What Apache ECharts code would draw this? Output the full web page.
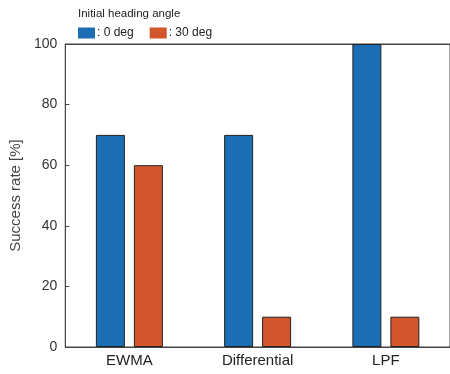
<!DOCTYPE html>
<html>
<head>
<meta charset="utf-8">
<script src="https://cdn.jsdelivr.net/npm/echarts@6/dist/echarts.min.js"></script>
<style>
  html, body { margin: 0; padding: 0; background: #fff; }
  #chart { width: 450px; height: 374px; }
</style>
</head>
<body>
<div id="chart"></div>
<script>
// categories and values
var categories = ['EWMA', 'Differential', 'LPF'];
var deg0 = [70, 70, 100];
var deg30 = [60, 10, 10];
var seriesNames = [': 0 deg', ': 30 deg'];
var yTicks = [0, 20, 40, 60, 80, 100];

var font = 'Liberation Sans, Arial, sans-serif';

var chart = echarts.init(document.getElementById('chart'));

var option = {
  animation: false,
  color: ['#1c6eb4', '#d2552c'],
  title: {
    text: 'Initial heading angle',
    left: 73,
    top: 3,
    textStyle: { fontSize: 11.5, fontWeight: 'normal', color: '#222', fontFamily: font }
  },
  legend: {
    data: seriesNames,
    left: 73,
    top: 22,
    itemWidth: 17,
    itemHeight: 11,
    itemGap: 16,
    icon: 'rect',
    itemStyle: { borderWidth: 0 },
    textStyle: { fontSize: 12, color: '#222', fontFamily: font, padding: [0, 0, 0, -3] }
  },
  grid: {
    left: 63,
    top: 44,
    bottom: 27,
    width: 392,
    show: true,
    borderColor: '#444',
    borderWidth: 1
  },
  xAxis: [
    {
      type: 'category',
      data: categories,
      axisLine: { lineStyle: { color: '#444', width: 1 } },
      axisTick: { alignWithLabel: true, inside: true, length: 4, lineStyle: { color: '#444' } },
      axisLabel: { fontSize: 15, color: '#222', fontFamily: font, margin: 6 }
    },
    {
      type: 'category',
      data: categories,
      position: 'top',
      axisLine: { lineStyle: { color: '#444', width: 1 } },
      axisTick: { alignWithLabel: true, inside: true, length: 4, lineStyle: { color: '#444' } },
      axisLabel: { show: false }
    }
  ],
  yAxis: {
    type: 'value',
    min: yTicks[0],
    max: yTicks[yTicks.length - 1],
    interval: 20,
    name: 'Success rate [%]',
    nameLocation: 'middle',
    nameGap: 38,
    nameTextStyle: { fontSize: 15, color: '#444', fontFamily: font },
    axisLine: { show: true, lineStyle: { color: '#444', width: 1 } },
    axisTick: { show: true, inside: true, length: 4, lineStyle: { color: '#444' } },
    axisLabel: { fontSize: 14, color: '#333', fontFamily: font, margin: 8 },
    splitLine: { show: false }
  },
  series: [
    {
      name: seriesNames[0],
      type: 'bar',
      data: deg0,
      barWidth: 29,
      barGap: '31%',
      itemStyle: { borderColor: '#222', borderWidth: 1 }
    },
    {
      name: seriesNames[1],
      type: 'bar',
      data: deg30,
      barWidth: 29,
      barGap: '31%',
      itemStyle: { borderColor: '#222', borderWidth: 1 }
    }
  ]
};

chart.setOption(option);
</script>
</body>
</html>
